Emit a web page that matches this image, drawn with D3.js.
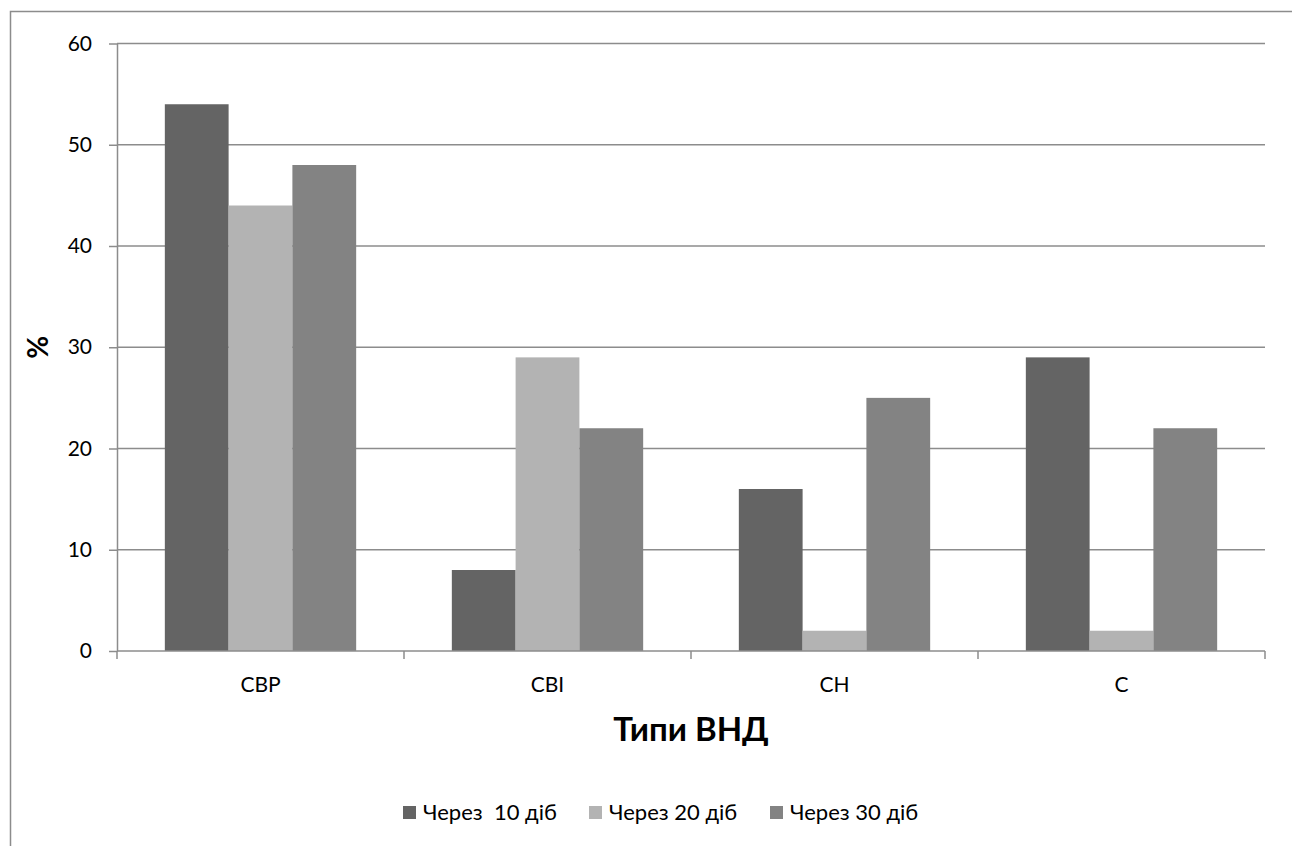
<!DOCTYPE html>
<html>
<head>
<meta charset="utf-8">
<script src="https://cdnjs.cloudflare.com/ajax/libs/d3/7.8.5/d3.min.js"></script>
<style>
  html, body { margin: 0; padding: 0; background: #fff; }
  svg { display: block; font-family: Lato, "Open Sans", sans-serif; }
</style>
</head>
<body>
<svg id="chart" width="1292" height="846"></svg>
<script>
// Types of higher nervous activity and share (%) after 10, 20, 30 days
const categories = ["СВР", "СВІ", "СН", "С"];
const seriesNames = ["Через  10 діб", "Через 20 діб", "Через 30 діб"];
const after10 = [54, 8, 16, 29];
const after20 = [44, 29, 2, 2];
const after30 = [48, 22, 25, 22];
const yTicks = [0, 10, 20, 30, 40, 50, 60];
const seriesColors = ["#646464", "#b3b3b3", "#838383"];

const values = [after10, after20, after30];

const svg = d3.select("#chart");

// chart frame
svg.append("rect")
  .attr("x", 10.5).attr("y", 11.5)
  .attr("width", 1400).attr("height", 1000)
  .attr("fill", "none").attr("stroke", "#8c8c8c").attr("stroke-width", 1.5);

const plot = { left: 117, right: 1265, top: 43.5, bottom: 651 };

const y = d3.scaleLinear().domain([0, 60]).range([plot.bottom, plot.top]);
const x0 = d3.scaleBand().domain(categories).range([plot.left, plot.right]).paddingInner(0).paddingOuter(0);
const bw = x0.bandwidth();
const barW = bw / 4.5;
const x1 = d3.scaleBand().domain(d3.range(seriesNames.length))
  .range([barW * 0.75, bw - barW * 0.75]).padding(0);

const gridColor = "#8c8c8c";
const labelSize = 21;

// horizontal gridlines
svg.append("g")
  .selectAll("line")
  .data(yTicks.filter(t => t > 0))
  .join("line")
  .attr("x1", plot.left).attr("x2", plot.right)
  .attr("y1", d => y(d)).attr("y2", d => y(d))
  .attr("stroke", gridColor).attr("stroke-width", 1.5);

// bars
const groups = svg.append("g")
  .selectAll("g")
  .data(categories)
  .join("g")
  .attr("transform", d => `translate(${x0(d)},0)`);

groups.selectAll("rect")
  .data((c, ci) => values.map((arr, si) => ({ si, v: arr[ci] })))
  .join("rect")
  .attr("x", d => x1(d.si))
  .attr("width", x1.bandwidth())
  .attr("y", d => y(d.v))
  .attr("height", d => y(0) - y(d.v))
  .attr("fill", d => seriesColors[d.si]);

// y axis
const yAxis = d3.axisLeft(y).tickValues(yTicks).tickSize(8).tickPadding(17).tickSizeOuter(0);
const gy = svg.append("g").attr("transform", `translate(${plot.left},0)`).call(yAxis);
gy.attr("font-size", labelSize).attr("font-family", "Lato, 'Open Sans', sans-serif");
gy.select(".domain").attr("stroke", gridColor).attr("stroke-width", 1.5);
gy.selectAll(".tick line").attr("stroke", gridColor).attr("stroke-width", 1.5);
gy.selectAll(".tick text").attr("fill", "#000");

// x axis with ticks at category boundaries
const gx = svg.append("g").attr("transform", `translate(0,${plot.bottom})`);
gx.append("line")
  .attr("x1", plot.left).attr("x2", plot.right)
  .attr("y1", 0).attr("y2", 0)
  .attr("stroke", gridColor).attr("stroke-width", 1.5);
const boundaries = categories.map(c => x0(c)).concat([x0(categories[categories.length - 1]) + bw]);
gx.selectAll("line.tick")
  .data(boundaries)
  .join("line")
  .attr("class", "tick")
  .attr("x1", d => d).attr("x2", d => d)
  .attr("y1", 0).attr("y2", 8)
  .attr("stroke", gridColor).attr("stroke-width", 1.5);
gx.selectAll("text")
  .data(categories)
  .join("text")
  .attr("x", d => x0(d) + bw / 2)
  .attr("y", 41)
  .attr("text-anchor", "middle")
  .attr("font-size", labelSize)
  .text(d => d);

// axis titles
svg.append("text")
  .attr("transform", `translate(48,${(plot.top + plot.bottom) / 2}) rotate(-90)`)
  .attr("text-anchor", "middle")
  .attr("font-size", 28).attr("font-weight", "bold")
  .text("%");

svg.append("text")
  .attr("x", (plot.left + plot.right) / 2)
  .attr("y", 741)
  .attr("text-anchor", "middle")
  .attr("font-size", 33).attr("font-weight", "bold")
  .text("Типи ВНД");

// legend
const legendX = [403, 589, 770];
const legend = svg.append("g")
  .selectAll("g")
  .data(seriesNames)
  .join("g")
  .attr("transform", (d, i) => `translate(${legendX[i]},806)`);
legend.append("rect")
  .attr("width", 13).attr("height", 13)
  .attr("fill", (d, i) => seriesColors[i]);
legend.append("text")
  .attr("x", 20).attr("y", 14)
  .attr("font-size", 22)
  .attr("xml:space", "preserve")
  .style("white-space", "pre")
  .text(d => d);
</script>
</body>
</html>
